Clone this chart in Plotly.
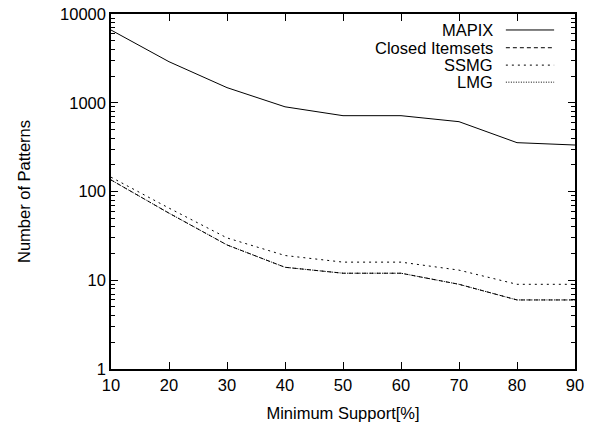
import plotly.graph_objects as go

support = [10, 20, 30, 40, 50, 60, 70, 80, 90]
mapix = [6600, 2900, 1480, 900, 715, 715, 612, 355, 334]
closed = [135, 57, 25, 14, 12, 12, 9, 6, 6]
ssmg = [145, 65, 30, 19, 16, 16, 13, 9, 9]
lmg = [135, 57, 25, 14, 12, 12, 9, 6, 6]

series = [
    ("MAPIX", mapix, "solid"),
    ("Closed Itemsets", closed, "4px,3px"),
    ("SSMG", ssmg, "2px,4px"),
    ("LMG", lmg, "1px,1.5px"),
]

x_ticks = [10, 20, 30, 40, 50, 60, 70, 80, 90]
y_ticks = [1, 10, 100, 1000, 10000]
y_ticklabels = ["1", "10", "100", "1000", "10000"]
y_minor = [m * d for d in [1, 10, 100, 1000] for m in range(2, 10)]

FONT = "Liberation Sans, Arial, Helvetica, sans-serif"
FS = 16.5

fig = go.Figure()
for name, vals, dash in series:
    fig.add_trace(go.Scatter(x=support, y=vals, mode="lines", name=name,
                             line=dict(color="black", width=1, dash=dash),
                             showlegend=False))

# gnuplot-style legend: text right-aligned, sample line on the right
row_y = [0.955, 0.905, 0.856, 0.808]
for (name, vals, dash), yy in zip(series, row_y):
    fig.add_annotation(x=0.828, y=yy, xref="paper", yref="paper", text=name,
                       showarrow=False, xanchor="right", yanchor="middle",
                       font=dict(family=FONT, size=FS, color="black"))
    fig.add_shape(type="line", xref="paper", yref="paper", x0=0.851, x1=0.955,
                  y0=yy, y1=yy, line=dict(color="black", width=1, dash=dash))

fig.update_xaxes(range=[10, 90], tickvals=x_ticks, ticks="inside", ticklen=7,
                 tickcolor="black", showline=True, linecolor="black", linewidth=1.5,
                 mirror="allticks", showgrid=False, zeroline=False, automargin=False,
                 tickfont=dict(family=FONT, size=FS, color="black"),
                 title=dict(text="Minimum Support[%]",
                            font=dict(family=FONT, size=FS, color="black")))
fig.update_yaxes(type="log", range=[0, 4], tickvals=y_ticks, ticktext=y_ticklabels,
                 ticks="inside", ticklen=7, tickcolor="black", showline=True,
                 linecolor="black", linewidth=1.5, mirror="allticks", showgrid=False,
                 zeroline=False, automargin=False,
                 minor=dict(tickvals=y_minor, ticks="inside", ticklen=4,
                            tickcolor="black", showgrid=False),
                 tickfont=dict(family=FONT, size=FS, color="black"),
                 title=dict(text="Number of Patterns", standoff=25,
                            font=dict(family=FONT, size=FS, color="black")))

fig.update_layout(width=600, height=423, margin=dict(l=111, r=25, t=14, b=54),
                  plot_bgcolor="white", paper_bgcolor="white",
                  font=dict(family=FONT, size=FS, color="black"))

fig.write_html("out.html", config={"displayModeBar": False},
               post_script="document.body.style.margin='0px';")
